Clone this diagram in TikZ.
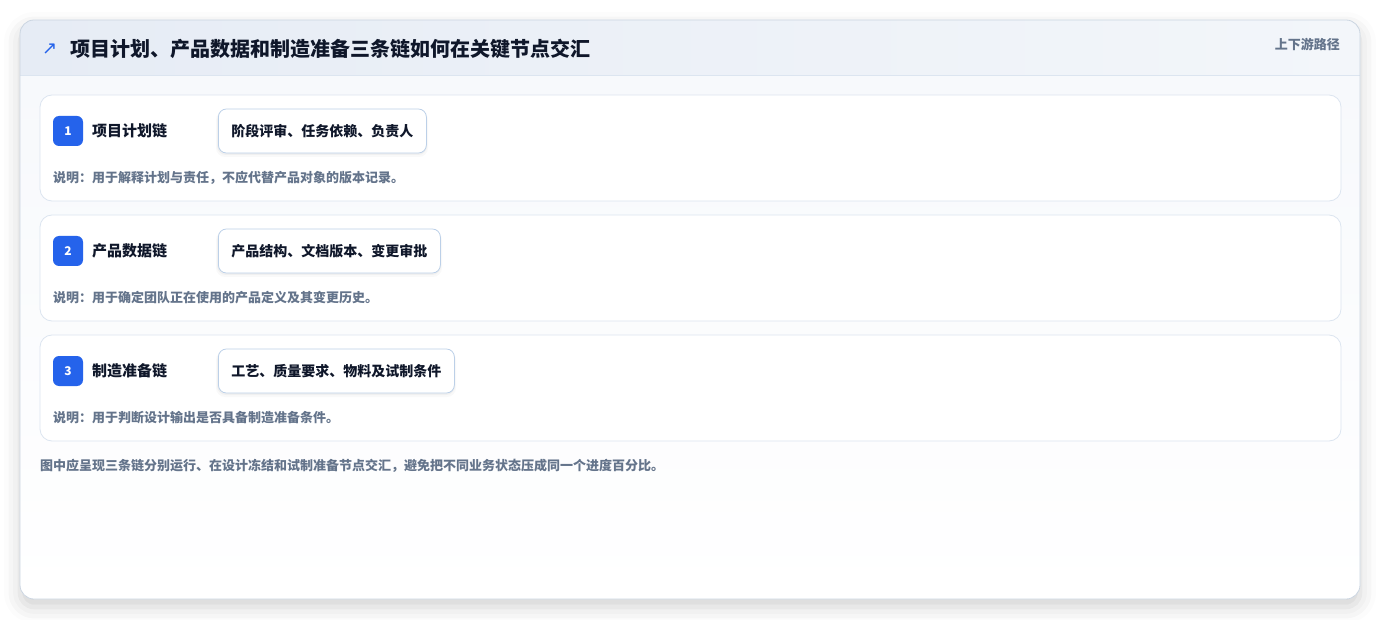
\documentclass[tikz,border=0pt]{standalone}
\usepackage{fontspec}
\setmainfont{Noto Sans CJK SC}
\newfontfamily\symfont{DejaVu Sans}
\usetikzlibrary{shadows.blur}
\definecolor{ink}{HTML}{0F172A}
\definecolor{muted}{HTML}{64748B}
\definecolor{accent}{HTML}{2563EB}
\definecolor{cardline}{HTML}{CBD5E1}
\definecolor{rowline}{HTML}{DCE5F0}
\definecolor{chipline}{HTML}{BCD0E8}
\definecolor{headA}{HTML}{E6ECF5}
\definecolor{headB}{HTML}{F3F6FA}
\definecolor{bodyA}{HTML}{F7F9FC}
\tikzset{
  rowbox/.style={draw=rowline, line width=0.8pt, fill=white, rounded corners=12pt},
  badge/.style={fill=accent, rounded corners=6pt, minimum width=30pt, minimum height=30pt, inner sep=0pt, text=white, font=\bfseries\fontsize{12}{14}\selectfont},
  lbl/.style={anchor=west, inner sep=0pt, text=ink, font=\bfseries\fontsize{15}{17}\selectfont},
  chip/.style={draw=chipline, line width=0.8pt, fill=white, rounded corners=8pt, inner sep=0pt, minimum height=44pt, text=ink, anchor=west, font=\bfseries\fontsize{14}{16}\selectfont},
  chipshade/.style={fill=black, rounded corners=9pt},
  desc/.style={anchor=west, inner sep=0pt, text=muted, font=\bfseries\fontsize{13}{15}\selectfont},
}
\begin{document}
\begin{tikzpicture}[x=1pt,y=-1pt]
\useasboundingbox (0,0) rectangle (1381,620);
% outer card
\path[fill=white, rounded corners=14pt, blur shadow={shadow xshift=0pt, shadow yshift=-8pt, shadow blur radius=16pt, shadow opacity=18}] (20,20) rectangle (1360,599);
\begin{scope}
\clip[rounded corners=14pt] (20,20) rectangle (1360,599);
\shade[top color=bodyA, bottom color=white] (20,75) rectangle (1360,599);
\shade[left color=headA, right color=headB] (20,20) rectangle (1360,75);
\draw[draw=rowline, line width=0.8pt] (20,75) -- (1360,75);
\end{scope}
\draw[cardline, line width=0.8pt, rounded corners=14pt] (20,20) rectangle (1360,599);
% header
\node[anchor=west, inner sep=0pt, text=accent, font=\symfont\fontsize{18}{20}\selectfont] (arrow) at (42,49) {↗};
\node[anchor=west, inner sep=0pt, text=ink, font=\bfseries\fontsize{20}{22}\selectfont] (title) at (70,49) {项目计划、产品数据和制造准备三条链如何在关键节点交汇};
\node[anchor=east, inner sep=0pt, text=muted, font=\bfseries\fontsize{13}{15}\selectfont] (path) at (1340,44) {上下游路径};
% rows
\foreach \i/\y/\name/\chiptext/\cw/\d in {
  1/95/项目计划链/阶段评审、任务依赖、负责人/208/说明：用于解释计划与责任，不应代替产品对象的版本记录。,
  2/215/产品数据链/产品结构、文档版本、变更审批/222/说明：用于确定团队正在使用的产品定义及其变更历史。,
  3/335/制造准备链/工艺、质量要求、物料及试制条件/236/说明：用于判断设计输出是否具备制造准备条件。}{
  \draw[rowbox] (40,\y) rectangle (1341,\y+106);
  \node[badge] (b\i) at (68,\y+36) {\i};
  \node[lbl] (l\i) at (92,\y+36) {\name};
  \fill[chipshade, opacity=0.025] (216,\y+14+2) rectangle (218+\cw+2,\y+58+4);
  \fill[chipshade, opacity=0.035] (217,\y+14+2) rectangle (218+\cw+1,\y+58+2);
  \node[chip, minimum width=\cw pt] (c\i) at (218,\y+36) {\chiptext};
  \node[desc] (d\i) at (53,\y+83) {\d};
}
\node[desc] (foot) at (40,466) {图中应呈现三条链分别运行、在设计冻结和试制准备节点交汇，避免把不同业务状态压成同一个进度百分比。};
\end{tikzpicture}
\end{document}
